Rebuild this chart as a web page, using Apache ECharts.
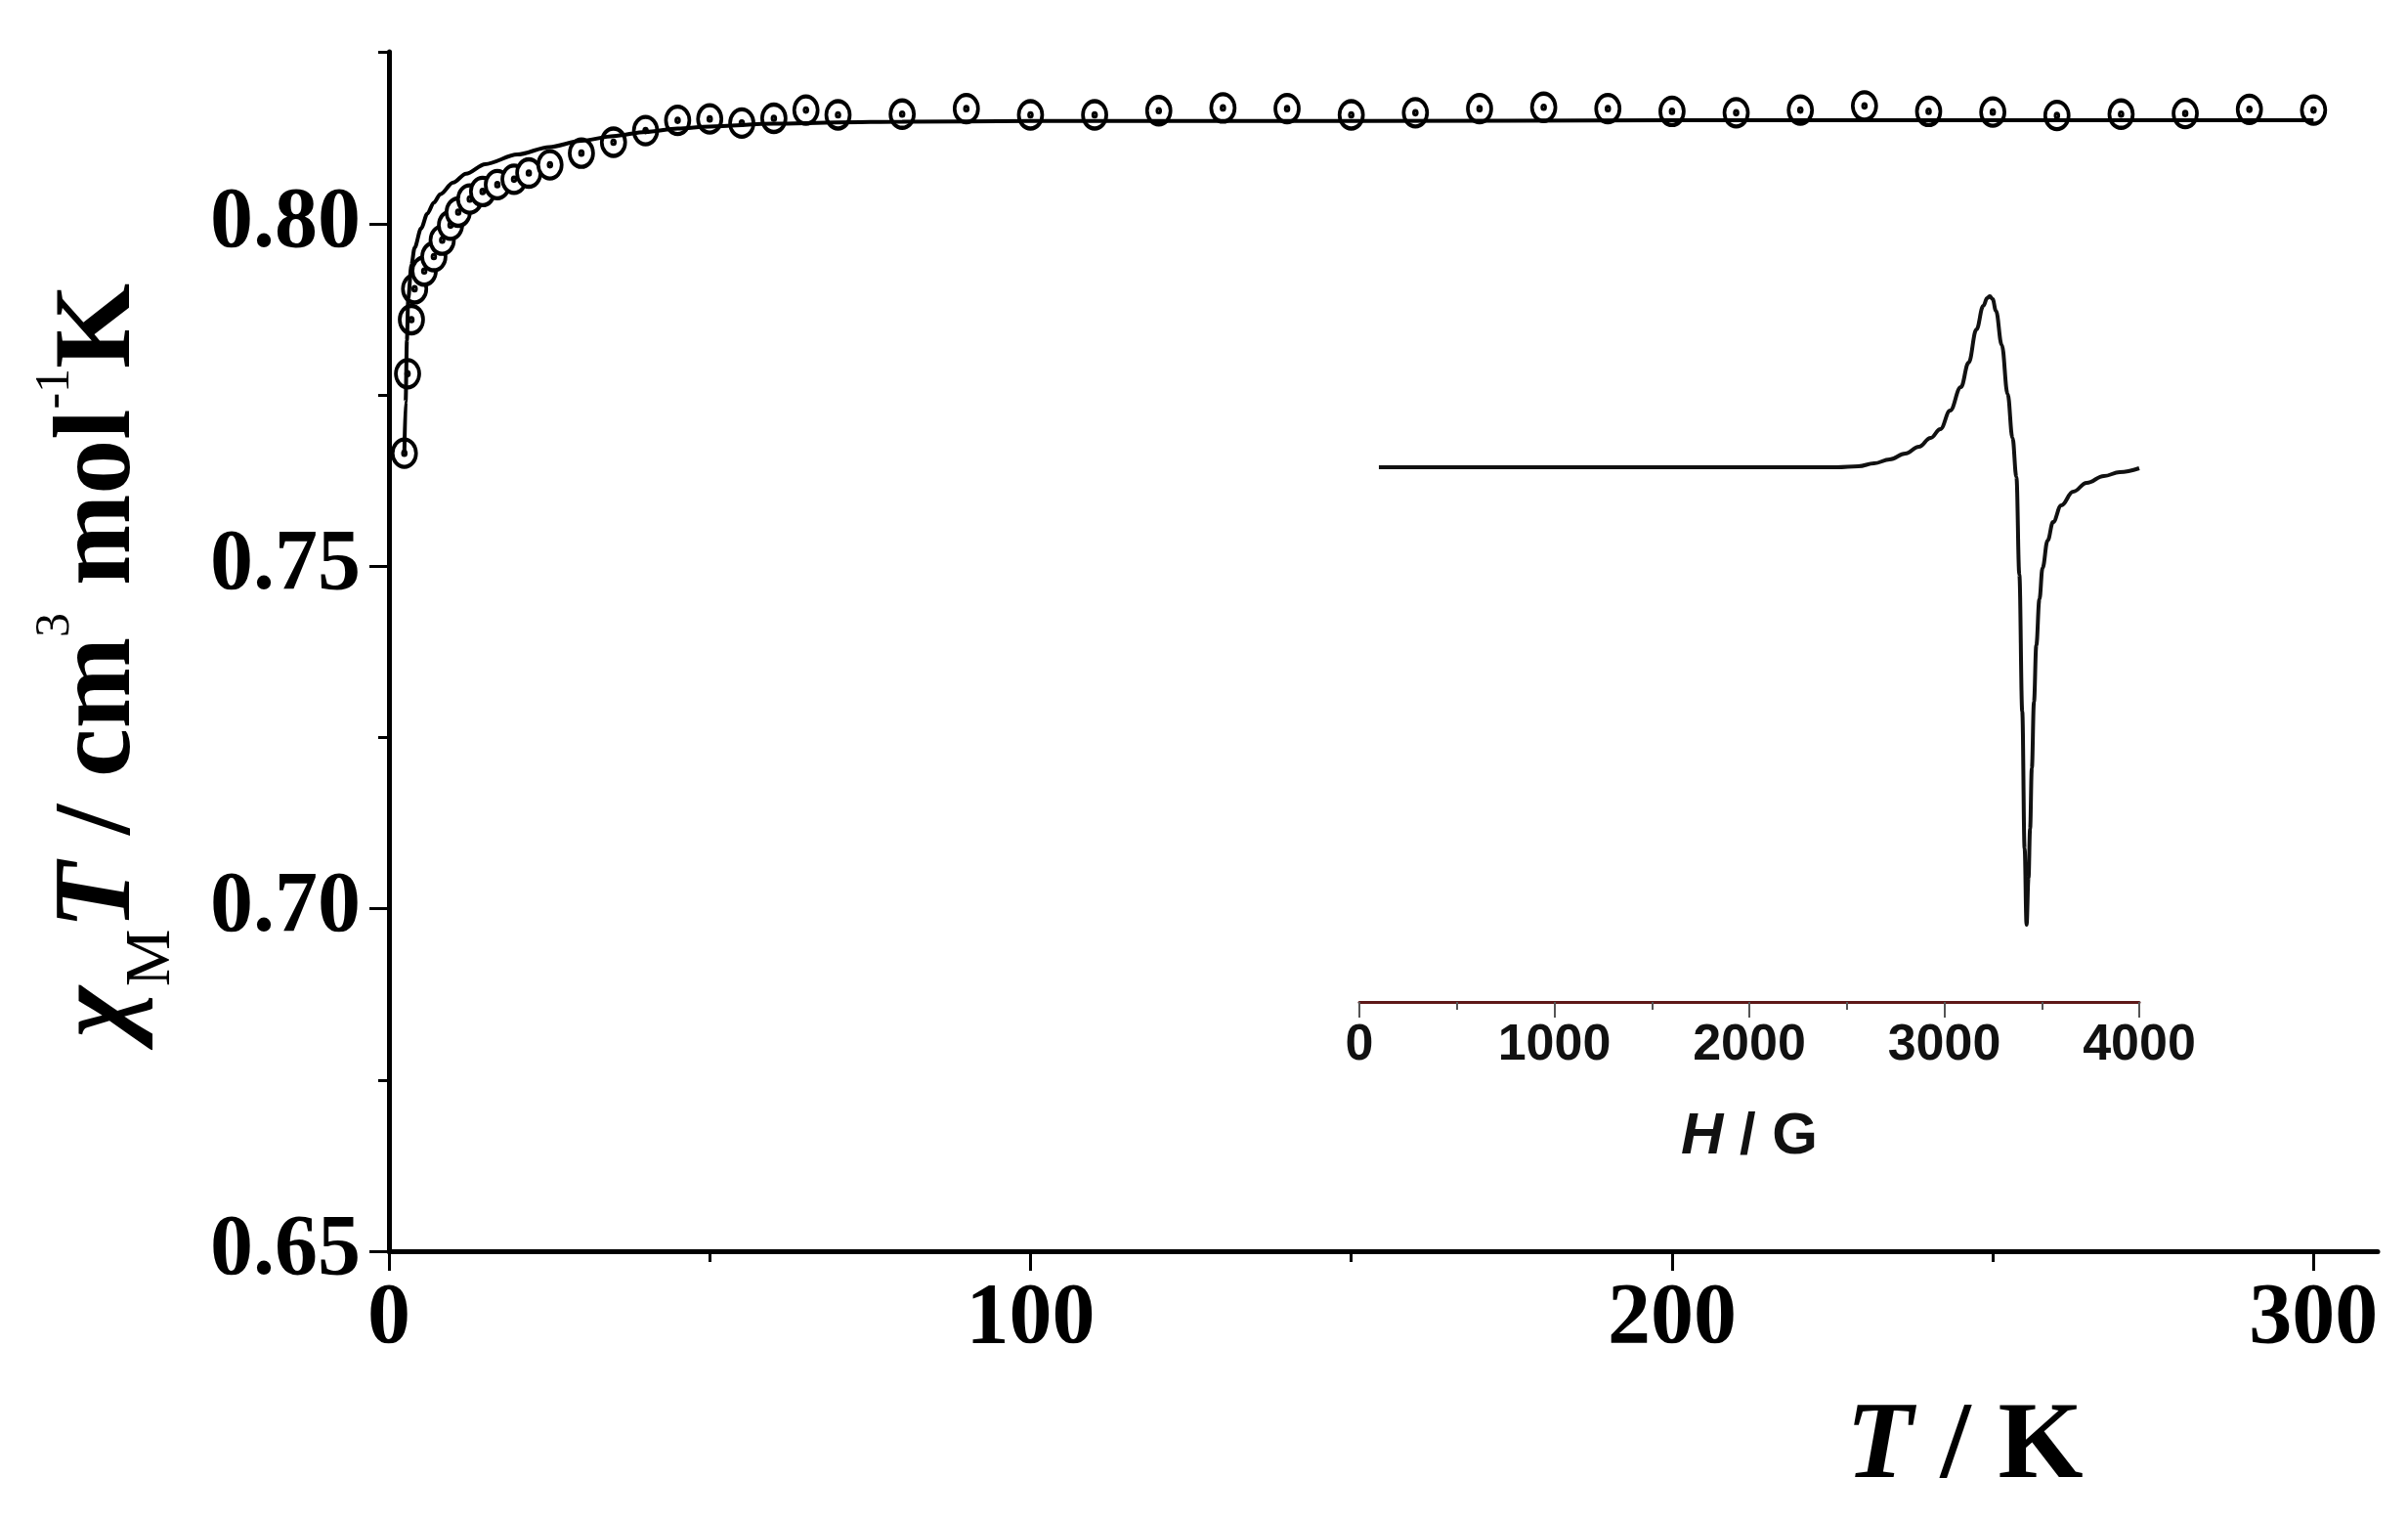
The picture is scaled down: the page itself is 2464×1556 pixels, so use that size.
<!DOCTYPE html>
<html>
<head>
<meta charset="utf-8">
<title>chiMT vs T with EPR inset</title>
<script src="https://cdn.jsdelivr.net/npm/echarts@6/dist/echarts.min.js"></script>
<style>
    html, body { margin: 0; padding: 0; background: #fff; }
    #show_picture { width: 2464px; height: 1556px; }
</style>
</head>
<body>
<div id="show_picture"></div>
<script>
// measured chi_M T (cm3 mol-1 K) vs T (K)
const tempK = [2.4, 2.9, 3.5, 4.0, 5.5, 7.0, 8.3, 9.6, 10.8, 12.6, 14.6, 16.9, 19.5, 21.8, 25.1,
    30, 35, 40, 45, 50, 55, 60, 65, 70, 80, 90, 100, 110, 120, 130, 140, 150, 160, 170,
    180, 190, 200, 210, 220, 230, 240, 250, 260, 270, 280, 290, 300];
const chiT = [0.7665, 0.7781, 0.7860, 0.7905, 0.7931, 0.7952, 0.7976, 0.7998, 0.8017, 0.8036,
    0.8047, 0.8057, 0.8065, 0.8074, 0.8086, 0.8103, 0.8119, 0.8136, 0.8151, 0.8153, 0.8147,
    0.8154, 0.8166, 0.8159, 0.8160, 0.8168, 0.8159, 0.8159, 0.8165, 0.8169, 0.8168, 0.8159,
    0.8162, 0.8168, 0.8170, 0.8168, 0.8164, 0.8162, 0.8166, 0.8172, 0.8164, 0.8163, 0.8158,
    0.8160, 0.8161, 0.8167, 0.8166];

// fitted curve
const fitT = [2.4, 2.6, 2.8, 3.0, 3.5, 4, 5, 6, 7, 8, 10, 12, 15, 20, 25, 30, 35, 40, 45, 50,
    60, 70, 80, 100, 150, 200, 250, 300];
const fitChiT = [0.7665, 0.7740, 0.7830, 0.7890, 0.7940, 0.7965, 0.7993, 0.8015, 0.8031, 0.8043,
    0.8060, 0.8073, 0.8087, 0.8101, 0.8112, 0.8121, 0.8128, 0.8134, 0.8139, 0.8142, 0.8146,
    0.8148, 0.8149, 0.8150, 0.8150, 0.8151, 0.8151, 0.8151];

// EPR inset, field (G) and derivative signal (a.u.)
const fieldG = [100, 2450, 2560, 2640, 2720, 2800, 2870, 2930, 2980, 3030, 3085, 3125, 3165,
    3200, 3220, 3233, 3248, 3265, 3295, 3325, 3350, 3370, 3385, 3400, 3412, 3422, 3432, 3440,
    3449, 3460, 3472, 3488, 3504, 3530, 3558, 3600, 3661, 3730, 3819, 3900, 4000];
const eprSignal = [0, 0, 0.01, 0.04, 0.08, 0.14, 0.21, 0.30, 0.39, 0.58, 0.82, 1.07, 1.41,
    1.65, 1.73, 1.75, 1.72, 1.60, 1.25, 0.75, 0.30, -0.10, -1.10, -2.50, -3.90, -4.68, -4.20,
    -3.70, -3.08, -2.40, -1.82, -1.35, -1.03, -0.75, -0.56, -0.39, -0.25, -0.16, -0.09, -0.05,
    -0.01];

const tTicks = [0, 100, 200, 300];
const chiTicks = [0.65, 0.70, 0.75, 0.80];

const serif = 'Liberation Serif';
const sans = 'Liberation Sans';

// open circle with a centre dot
const ringSymbol = 'path://M50,0A50,50,0,1,1,50,100A50,50,0,1,1,50,0ZM50,44A6,6,0,1,1,50,56A6,6,0,1,1,50,44Z';

let myChart = echarts.init(document.getElementById('show_picture'));

let option = {
    backgroundColor: '#fff',
    animation: false,
    title: {
        text: '{it|T}{n| / K}',
        left: 1884,
        top: 1421,
        textStyle: {
            rich: {
                it: { fontFamily: serif, fontStyle: 'italic', fontWeight: 'bold', fontSize: 112, color: '#000' },
                n: { fontFamily: serif, fontWeight: 'bold', fontSize: 112, color: '#000' }
            }
        }
    },
    grid: [
        { left: 398, right: 31, top: 53, bottom: 276, outerBoundsMode: 'none' },
        { left: 1391, right: 275, top: 250, bottom: 531, outerBoundsMode: 'none' }
    ],
    xAxis: [
        {
            type: 'value',
            gridIndex: 0,
            min: 0,
            max: 310,
            interval: 100,
            splitLine: { show: false },
            axisLine: { onZero: false, lineStyle: { color: '#000', width: 5 } },
            axisTick: { length: 20, lineStyle: { color: '#000', width: 3 }, customValues: tTicks },
            minorTick: { show: true, splitNumber: 2, length: 11, lineStyle: { color: '#000', width: 3 } },
            axisLabel: {
                customValues: tTicks,
                margin: 26,
                color: '#000',
                fontFamily: serif,
                fontWeight: 'bold',
                fontSize: 88
            }
        },
        {
            type: 'value',
            gridIndex: 1,
            min: 0,
            max: 4000,
            interval: 1000,
            splitLine: { show: false },
            axisLine: { onZero: false, lineStyle: { color: '#5e1818', width: 3 } },
            axisTick: { length: 16, lineStyle: { color: '#555', width: 2 } },
            minorTick: { show: true, splitNumber: 2, length: 8, lineStyle: { color: '#555', width: 2 } },
            axisLabel: {
                margin: 19,
                color: '#111',
                fontFamily: sans,
                fontWeight: 'bold',
                fontSize: 52,
                formatter: v => String(v)
            },
            name: '{it|H}{n| / G}',
            nameLocation: 'middle',
            nameGap: 108,
            nameTextStyle: {
                rich: {
                    it: { fontFamily: sans, fontStyle: 'italic', fontWeight: 'bold', fontSize: 60, color: '#111' },
                    n: { fontFamily: sans, fontWeight: 'bold', fontSize: 60, color: '#111' }
                }
            }
        }
    ],
    yAxis: [
        {
            type: 'value',
            gridIndex: 0,
            min: 0.65,
            max: 0.8251,
            interval: 0.05,
            splitLine: { show: false },
            axisLine: { show: true, onZero: false, lineStyle: { color: '#000', width: 5 } },
            axisTick: { show: true, length: 20, lineStyle: { color: '#000', width: 3 }, customValues: chiTicks },
            minorTick: { show: true, splitNumber: 2, length: 11, lineStyle: { color: '#000', width: 3 } },
            axisLabel: {
                customValues: chiTicks,
                margin: 29,
                color: '#000',
                fontFamily: serif,
                fontWeight: 'bold',
                fontSize: 88,
                formatter: v => v.toFixed(2)
            },
            name: '{chi|χ}{sub|M}{it|T}{n| / cm}{sup|3}{n| mol}{sup|-1}{n|K}',
            nameLocation: 'middle',
            nameRotate: 90,
            nameGap: 202,
            nameTextStyle: {
                padding: [0, 18, 0, 0],
                rich: {
                    chi: { fontFamily: serif, fontStyle: 'italic', fontWeight: 'bold', fontSize: 112, lineHeight: 185, color: '#000' },
                    it: { fontFamily: serif, fontStyle: 'italic', fontWeight: 'bold', fontSize: 112, lineHeight: 185, color: '#000' },
                    n: { fontFamily: serif, fontWeight: 'bold', fontSize: 112, lineHeight: 185, color: '#000' },
                    sub: { fontFamily: serif, fontSize: 66, lineHeight: 66, verticalAlign: 'bottom', padding: [0, 0, 7, 0], color: '#000' },
                    sup: { fontFamily: serif, fontSize: 50, verticalAlign: 'top', padding: [21, 0, 0, 0], color: '#000' }
                }
            }
        },
        {
            type: 'value',
            gridIndex: 1,
            min: -5.47,
            max: 2.28,
            show: false
        }
    ],
    series: [
        {
            name: 'data',
            type: 'scatter',
            xAxisIndex: 0,
            yAxisIndex: 0,
            z: 2,
            symbol: ringSymbol,
            symbolSize: [24, 28],
            itemStyle: { color: '#fff', borderColor: '#000', borderWidth: 4, opacity: 1 },
            data: tempK.map((t, i) => [t, chiT[i]])
        },
        {
            name: 'fit',
            type: 'line',
            xAxisIndex: 0,
            yAxisIndex: 0,
            z: 3,
            showSymbol: false,
            smooth: 0.3,
            smoothMonotone: 'x',
            lineStyle: { color: '#000', width: 4 },
            data: fitT.map((t, i) => [t, fitChiT[i]])
        },
        {
            name: 'EPR',
            type: 'line',
            xAxisIndex: 1,
            yAxisIndex: 1,
            showSymbol: false,
            smooth: 0.4,
            smoothMonotone: 'x',
            lineStyle: { color: '#111', width: 4 },
            data: fieldG.map((h, i) => [h, eprSignal[i]])
        }
    ]
};

option && myChart.setOption(option);
</script>
</body>
</html>
